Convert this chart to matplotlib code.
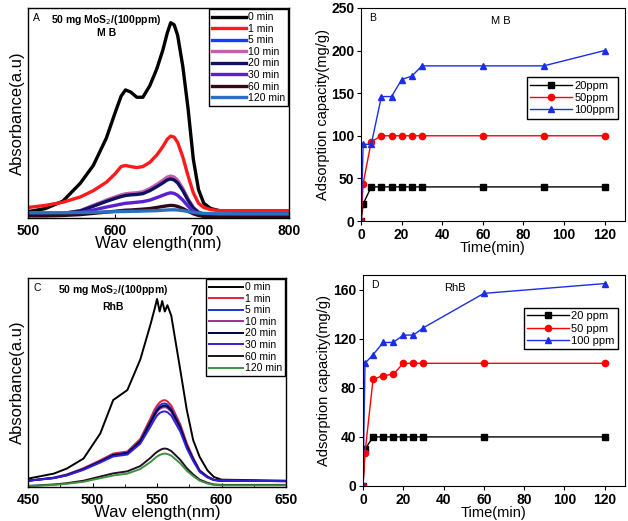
import numpy as np
import matplotlib
matplotlib.use("Agg")
import matplotlib.pyplot as pl

pl.rcParams['font.family'] = ['Liberation Sans', 'DejaVu Sans']

# ---- panel A: MB spectra (wavelength nm, absorbance a.u.)
wl_A = [500, 520, 540, 560, 575, 590, 600, 607, 612, 618, 625, 632, 640, 648, 655, 660, 664, 668, 672, 678, 684, 690, 696, 702, 710, 720, 760, 800]
abs_A_0 = [0.03, 0.045, 0.08, 0.165, 0.25, 0.38, 0.50, 0.58, 0.61, 0.60, 0.575, 0.575, 0.63, 0.71, 0.80, 0.88, 0.93, 0.92, 0.87, 0.72, 0.52, 0.28, 0.135, 0.07, 0.045, 0.035, 0.03, 0.03]
abs_A_1 = [0.05, 0.06, 0.075, 0.10, 0.13, 0.17, 0.21, 0.245, 0.25, 0.245, 0.24, 0.245, 0.265, 0.30, 0.34, 0.375, 0.39, 0.385, 0.36, 0.29, 0.20, 0.12, 0.07, 0.05, 0.04, 0.035, 0.035, 0.035]
abs_A_5 = [0.02, 0.02, 0.021, 0.034, 0.058, 0.082, 0.097, 0.107, 0.111, 0.114, 0.116, 0.121, 0.135, 0.155, 0.174, 0.188, 0.193, 0.188, 0.174, 0.135, 0.087, 0.048, 0.027, 0.017, 0.012, 0.011, 0.01, 0.01]
abs_A_10 = [0.02, 0.02, 0.022, 0.035, 0.06, 0.085, 0.10, 0.11, 0.115, 0.118, 0.12, 0.125, 0.14, 0.16, 0.18, 0.195, 0.20, 0.195, 0.18, 0.14, 0.09, 0.05, 0.028, 0.018, 0.013, 0.012, 0.01, 0.01]
abs_A_20 = [0.02, 0.02, 0.021, 0.033, 0.056, 0.079, 0.093, 0.102, 0.107, 0.11, 0.112, 0.116, 0.13, 0.149, 0.167, 0.181, 0.186, 0.181, 0.167, 0.13, 0.084, 0.047, 0.026, 0.017, 0.012, 0.011, 0.01, 0.01]
abs_A_30 = [0.015, 0.015, 0.017, 0.025, 0.038, 0.052, 0.06, 0.066, 0.07, 0.072, 0.075, 0.078, 0.085, 0.097, 0.108, 0.116, 0.12, 0.117, 0.108, 0.085, 0.056, 0.032, 0.02, 0.013, 0.01, 0.009, 0.008, 0.008]
abs_A_60 = [0.01, 0.01, 0.012, 0.016, 0.022, 0.028, 0.032, 0.035, 0.037, 0.038, 0.04, 0.042, 0.045, 0.05, 0.055, 0.058, 0.06, 0.059, 0.055, 0.045, 0.032, 0.02, 0.012, 0.008, 0.006, 0.005, 0.004, 0.004]
abs_A_120 = [0.025, 0.025, 0.025, 0.026, 0.027, 0.029, 0.03, 0.031, 0.031, 0.032, 0.032, 0.033, 0.034, 0.035, 0.037, 0.038, 0.039, 0.039, 0.038, 0.035, 0.031, 0.027, 0.024, 0.022, 0.021, 0.02, 0.02, 0.02]

# ---- panel C: RhB spectra
wl_C = [450, 470, 480, 493, 506, 516, 527, 537, 545, 548, 550, 552, 554, 556, 558, 561, 568, 573, 578, 583, 589, 594, 600, 650]
abs_C_0 = [0.04, 0.064, 0.088, 0.136, 0.256, 0.416, 0.464, 0.61, 0.78, 0.85, 0.90, 0.84, 0.89, 0.84, 0.87, 0.82, 0.56, 0.37, 0.224, 0.144, 0.08, 0.048, 0.035, 0.03]
abs_C_1 = [0.03, 0.045, 0.06, 0.09, 0.128, 0.16, 0.17, 0.23, 0.33, 0.37, 0.39, 0.405, 0.413, 0.416, 0.41, 0.39, 0.30, 0.21, 0.14, 0.08, 0.05, 0.035, 0.03, 0.028]
abs_C_5 = [0.03, 0.044, 0.058, 0.087, 0.124, 0.155, 0.165, 0.222, 0.318, 0.355, 0.375, 0.39, 0.398, 0.40, 0.395, 0.375, 0.29, 0.2, 0.135, 0.078, 0.049, 0.034, 0.03, 0.028]
abs_C_10 = [0.03, 0.043, 0.056, 0.084, 0.12, 0.15, 0.16, 0.215, 0.305, 0.34, 0.36, 0.373, 0.38, 0.382, 0.378, 0.36, 0.28, 0.195, 0.13, 0.075, 0.047, 0.033, 0.03, 0.028]
abs_C_20 = [0.03, 0.043, 0.057, 0.085, 0.122, 0.152, 0.162, 0.218, 0.31, 0.345, 0.366, 0.38, 0.387, 0.39, 0.385, 0.367, 0.285, 0.198, 0.132, 0.076, 0.048, 0.034, 0.03, 0.028]
abs_C_30 = [0.03, 0.042, 0.055, 0.082, 0.117, 0.146, 0.155, 0.207, 0.29, 0.323, 0.342, 0.354, 0.36, 0.362, 0.358, 0.342, 0.265, 0.185, 0.124, 0.072, 0.046, 0.033, 0.03, 0.028]
abs_C_60 = [0.005, 0.012, 0.018, 0.03, 0.05, 0.065, 0.075, 0.10, 0.14, 0.158, 0.168, 0.176, 0.182, 0.184, 0.182, 0.172, 0.13, 0.09, 0.06, 0.035, 0.02, 0.012, 0.01, 0.01]
abs_C_120 = [0.004, 0.01, 0.015, 0.025, 0.042, 0.055, 0.064, 0.086, 0.12, 0.136, 0.146, 0.153, 0.158, 0.16, 0.158, 0.15, 0.113, 0.078, 0.052, 0.03, 0.017, 0.01, 0.008, 0.008]

spec_labels = ["0 min", "1 min", "5 min", "10 min", "20 min", "30 min", "60 min", "120 min"]
colors_A = ["#000000", "#ff1a1a", "#1a3cff", "#c060b0", "#101060", "#5a20d0", "#300818", "#2a70c0"]
colors_C = ["#000000", "#e8203a", "#2030e0", "#a03090", "#000040", "#3020d8", "#201020", "#409040"]

# ---- panel B: MB kinetics
t_B = [0, 1, 5, 10, 15, 20, 25, 30, 60, 90, 120]
q_B_20 = [0, 20, 40, 40, 40, 40, 40, 40, 40, 40, 40]
q_B_50 = [0, 44, 93, 100, 100, 100, 100, 100, 100, 100, 100]
q_B_100 = [0, 90, 90, 146, 146, 166, 170, 182, 182, 182, 200]

# ---- panel D: RhB kinetics
t_D = [0, 1, 5, 10, 15, 20, 25, 30, 60, 120]
q_D_20 = [0, 30, 40, 40, 40, 40, 40, 40, 40, 40]
q_D_50 = [0, 27, 87, 90, 91, 100, 100, 100, 100, 100]
q_D_100 = [0, 100, 107, 117, 117, 123, 123, 129, 157, 165]

fig = pl.figure(figsize=(6.28, 5.21), dpi=100)

def specPanel(ax, wl, curves, colors, lw, xlim, xticks, minor, letter, dye, txt_x, dye_y):
	for i in range(len(curves)):
		ax.plot(wl, curves[i], '-', color=colors[i], lw=lw, label=spec_labels[i])
	ax.set_xlim(xlim)
	ax.set_ylim(0, 1)
	ax.set_yticks([])
	ax.set_xticks(xticks)
	if minor:
		ax.set_xticks(minor, minor=True)
	ax.tick_params(axis='x', direction='in', labelsize=10, length=3, pad=4)
	ax.tick_params(axis='x', which='minor', direction='in', length=2)
	for tl in ax.get_xticklabels():
		tl.set_fontweight('bold')
	ax.set_xlabel('Wav elength(nm)', fontsize=12, labelpad=-1)
	ax.set_ylabel('Absorbance(a.u)', fontsize=12, labelpad=2)
	ax.text(0.02, 0.975, letter, transform=ax.transAxes, fontsize=7.5, va='top')
	ax.text(txt_x, 0.975, "50 mg MoS$_2$/(100ppm)", transform=ax.transAxes, fontsize=7.5, va='top', ha='center', fontweight='bold')
	ax.text(txt_x, dye_y, dye, transform=ax.transAxes, fontsize=7.5, va='center', ha='center', fontweight='bold')
	leg = ax.legend(loc='upper right', fontsize=7.5, labelspacing=0.15, handlelength=3.2,
		handletextpad=0.2, borderpad=0.3, borderaxespad=0.1, fancybox=False, edgecolor='black', framealpha=1)
	leg.get_frame().set_linewidth(1.0)
	for s in ax.spines.values():
		s.set_linewidth(1.0)

def kinPanel(ax, t, series, labels, ylim, yticks, letter, dye, dye_x, leg_box):
	markers = ['s', 'o', '^']
	cols = ['black', 'red', '#1a2ee8']
	for i in range(3):
		ax.plot(t, series[i], '-', marker=markers[i], color=cols[i], ms=4.5, lw=1.0, label=labels[i])
	ax.set_xlim(0, 130)
	ax.set_ylim(ylim)
	ax.set_yticks(yticks)
	ax.set_xticks(range(0, 121, 20))
	ax.tick_params(labelsize=10, length=3, pad=2)
	for tl in ax.get_xticklabels() + ax.get_yticklabels():
		tl.set_fontweight('bold')
	ax.set_xlabel('Time(min)', fontsize=10.5, labelpad=-1)
	ax.set_ylabel('Adsorption capacity(mg/g)', fontsize=10.5, labelpad=1)
	ax.text(0.03, 0.975, letter, transform=ax.transAxes, fontsize=7.5, va='top')
	ax.text(dye_x, 0.94, dye, transform=ax.transAxes, fontsize=8, va='center', ha='center')
	leg = ax.legend(loc='upper right', bbox_to_anchor=leg_box, fontsize=8, labelspacing=0.2, handlelength=3.8,
		handletextpad=0.2, borderpad=0.3, fancybox=False, edgecolor='black', framealpha=1)
	leg.get_frame().set_linewidth(1.0)

axA = fig.add_axes([0.0446, 0.5816, 0.4156, 0.403])
specPanel(axA, wl_A, [abs_A_0, abs_A_1, abs_A_5, abs_A_10, abs_A_20, abs_A_30, abs_A_60, abs_A_120],
	colors_A, 2.4, (500, 800), [500, 600, 700, 800], None, 'A', 'M B', 0.30, 0.88)

axB = fig.add_axes([0.575, 0.5758, 0.420, 0.409])
kinPanel(axB, t_B, [q_B_20, q_B_50, q_B_100], ['20ppm', '50ppm', '100ppm'], (0, 250),
	[0, 50, 100, 150, 200, 250], 'B', 'M B', 0.53, (0.995, 0.70))

axC = fig.add_axes([0.0446, 0.0653, 0.411, 0.401])
specPanel(axC, wl_C, [abs_C_0, abs_C_1, abs_C_5, abs_C_10, abs_C_20, abs_C_30, abs_C_60, abs_C_120],
	colors_C, 1.4, (450, 650), [450, 500, 550, 600, 650], [475, 525, 575, 625], 'C', 'RhB', 0.33, 0.86)

axD = fig.add_axes([0.578, 0.0672, 0.417, 0.405])
kinPanel(axD, t_D, [q_D_20, q_D_50, q_D_100], ['20 ppm', '50 ppm', '100 ppm'], (0, 172),
	[0, 40, 80, 120, 160], 'D', 'RhB', 0.35, (0.995, 0.87))

pl.savefig('out.png', format='png', dpi=100)
pl.close()
